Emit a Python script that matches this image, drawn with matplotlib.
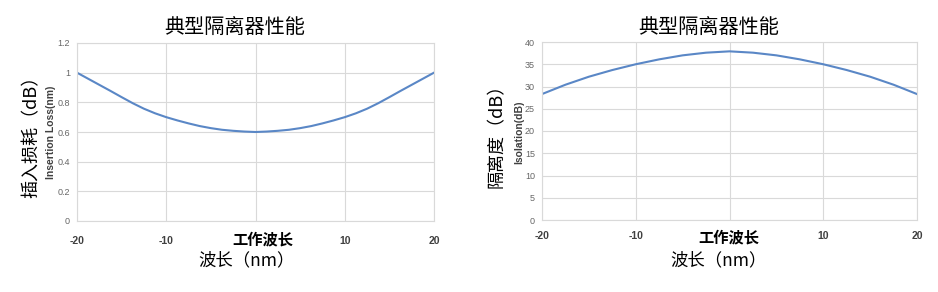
import matplotlib.pyplot as plt

plt.rcParams['font.family'] = ['Noto Sans CJK SC', 'DejaVu Sans']

# wavelength offset (nm)
wavelength = [-20, -18.75, -17.5, -16.25, -15, -13.75, -12.5, -11.25, -10,
              -8.75, -7.5, -6.25, -5, -3.75, -2.5, -1.25, 0,
              1.25, 2.5, 3.75, 5, 6.25, 7.5, 8.75, 10,
              11.25, 12.5, 13.75, 15, 16.25, 17.5, 18.75, 20]
insertion_loss = [1.0, 0.959, 0.918, 0.877, 0.835, 0.794, 0.757, 0.726, 0.70,
                  0.678, 0.658, 0.640, 0.626, 0.615, 0.608, 0.603, 0.60,
                  0.603, 0.608, 0.615, 0.626, 0.640, 0.658, 0.678, 0.70,
                  0.726, 0.757, 0.794, 0.835, 0.877, 0.918, 0.959, 1.0]

iso_wavelength = [-20, -17.5, -15, -12.5, -10, -7.5, -5, -2.5, 0,
                  2.5, 5, 7.5, 10, 12.5, 15, 17.5, 20]
isolation = [28.3, 30.4, 32.2, 33.7, 35.0, 36.1, 37.0, 37.6, 37.9,
             37.6, 37.0, 36.1, 35.0, 33.7, 32.2, 30.4, 28.3]

x_ticks = [-20, -10, 0, 10, 20]
x_labels = ['-20', '-10', '', '10', '20']
loss_ticks = [0, 0.2, 0.4, 0.6, 0.8, 1.0, 1.2]
loss_labels = ['0', '0.2', '0.4', '0.6', '0.8', '1', '1.2']
iso_ticks = [0, 5, 10, 15, 20, 25, 30, 35, 40]

title = '典型隔离器性能'
line_color = '#5a87c6'
grid_color = '#d9d9d9'
W, H = 938, 292


def style_axes(ax, x_pad):
    ax.grid(True, color=grid_color, linewidth=0.8)
    ax.set_axisbelow(True)
    for sp in ax.spines.values():
        sp.set_color(grid_color)
        sp.set_linewidth(0.8)
    ax.tick_params(axis='both', length=0)
    ax.tick_params(axis='y', labelsize=6.5, labelcolor='#666666', pad=5)
    ax.tick_params(axis='x', labelsize=7.5, labelcolor='#404040', pad=x_pad)
    for lb in ax.get_xticklabels():
        lb.set_fontweight('bold')
        lb.set_family(['Liberation Sans', 'DejaVu Sans'])
    for lb in ax.get_yticklabels():
        lb.set_family(['Liberation Sans', 'DejaVu Sans'])
    ax.set_xlim(-20, 20)


def fx(px):
    return px / W


def fy(py):
    return 1 - py / H


fig = plt.figure(figsize=(W / 100, H / 100), dpi=100)

# left: insertion loss
ax1 = fig.add_axes([fx(77), fy(221), fx(434 - 77), (221 - 43) / H])
ax1.plot(wavelength, insertion_loss, color=line_color, linewidth=1.5)
ax1.set_xticks(x_ticks)
ax1.set_xticklabels(x_labels)
ax1.set_yticks(loss_ticks)
ax1.set_yticklabels(loss_labels)
ax1.set_ylim(0, 1.2)
style_axes(ax1, 11)

# right: isolation
ax2 = fig.add_axes([fx(542), fy(220), fx(917 - 542), (220 - 42) / H])
ax2.plot(iso_wavelength, isolation, color=line_color, linewidth=1.5)
ax2.set_xticks(x_ticks)
ax2.set_xticklabels(x_labels)
ax2.set_yticks(iso_ticks)
ax2.set_ylim(0, 40)
style_axes(ax2, 8)

# titles
fig.text(fx(235), fy(27), title, ha='center', va='center', fontsize=14.5)
fig.text(fx(709), fy(27), title, ha='center', va='center', fontsize=14.5)

# x-axis annotations
fig.text(fx(263), fy(239), '工作波长', ha='center', va='center', fontsize=11, fontweight='bold')
fig.text(fx(729), fy(237), '工作波长', ha='center', va='center', fontsize=11, fontweight='bold')
fig.text(fx(247), fy(260), '波长（nm）', ha='center', va='center', fontsize=12.5)
fig.text(fx(719), fy(260), '波长（nm）', ha='center', va='center', fontsize=12.5)

# y-axis labels
fig.text(fx(32), fy(132), '插入损耗（dB）', ha='center', va='center', rotation=90, fontsize=13)
fig.text(fx(497), fy(131), '隔离度（dB）', ha='center', va='center', rotation=90, fontsize=13)
fig.text(fx(51), fy(132), 'Insertion Loss(nm)', ha='center', va='center', rotation=90,
         fontsize=7.5, fontweight='bold', color='#404040', family=['Liberation Sans', 'DejaVu Sans'])
fig.text(fx(519), fy(132), 'Isolation(dB)', ha='center', va='center', rotation=90,
         fontsize=7.5, fontweight='bold', color='#404040', family=['Liberation Sans', 'DejaVu Sans'])

fig.savefig('out.png', dpi=100)
